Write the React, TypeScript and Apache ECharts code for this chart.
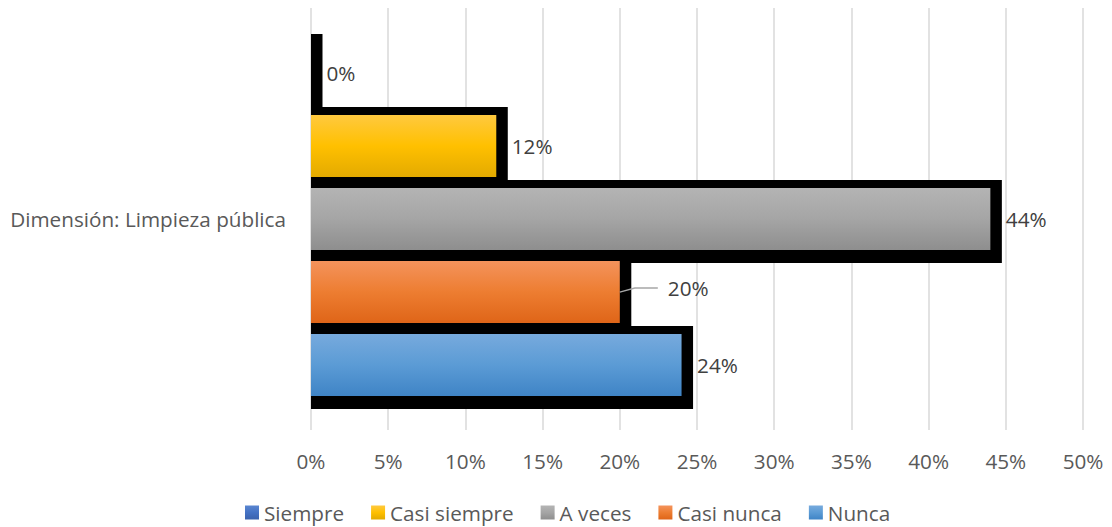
import React, { useEffect, useRef } from "react";
import * as echarts from "echarts";

const categories = ["Dimensión: Limpieza pública"];
const seriesNames = ["Siempre", "Casi siempre", "A veces", "Casi nunca", "Nunca"];
const seriesValues = [0, 0.12, 0.44, 0.2, 0.24];
const xTickValues = [0, 0.05, 0.1, 0.15, 0.2, 0.25, 0.3, 0.35, 0.4, 0.45, 0.5];

const topColors = ["#5a86d0", "#ffc93f", "#b4b4b4", "#f4935c", "#77aadd"];
const midColors = ["#4472c4", "#ffc000", "#a5a5a5", "#ed7d31", "#5b9bd5"];
const bottomColors = ["#3a62ad", "#e3aa00", "#8e8e8e", "#df6518", "#3f84c6"];

const FONT = "'Open Sans', 'Noto Sans', sans-serif";
const FS = 20.7;
const pct = (v: number) => Math.round(v * 100) + "%";

export default function App() {
  const ref = useRef<HTMLDivElement>(null);
  useEffect(() => {
    if (!ref.current) return;
    const chart = echarts.init(ref.current, null, { renderer: "svg" });
    const n = seriesNames.length;
    const grad = (i: number) =>
      new echarts.graphic.LinearGradient(0, 0, 0, 1, [
        { offset: 0, color: topColors[i] },
        { offset: 0.5, color: midColors[i] },
        { offset: 1, color: bottomColors[i] },
      ]);
    const series = seriesNames.map((name, i) => ({
      name,
      type: "custom",
      itemStyle: { color: grad(i) },
      encode: { x: 0, y: 1 },
      data: [[seriesValues[i], 0]],
      renderItem: (params: any, api: any) => {
        const idx = params.seriesIndex;
        const v = api.value(0);
        const start = api.coord([0, api.value(1)]);
        const end = api.coord([v, api.value(1)]);
        const band = api.size([0, 1])[1];
        const barH = band * 0.147;
        const step = band * 0.173;
        const total = (n - 1) * step + barH;
        const top = start[1] - total / 2 + idx * step;
        const w = end[0] - start[0];
        const children: any[] = [
          {
            type: "rect",
            shape: { x: start[0], y: top - 8, width: w + 11.5, height: barH + 8 + 13 },
            style: { fill: "#000" },
          },
          {
            type: "rect",
            shape: { x: start[0], y: top, width: w, height: barH },
            style: { fill: grad(idx) },
          },
        ];
        const cy = top + barH / 2;
        if (idx === 3) {
          const lx = end[0] + 48;
          const ly = cy - 4;
          children.push({
            type: "polyline",
            shape: { points: [[end[0], cy], [end[0] + 15, ly], [lx - 10, ly]] },
            style: { stroke: "#a6a6a6", lineWidth: 1.3, fill: "none" },
          });
          children.push({
            type: "text",
            x: lx,
            y: ly,
            style: { text: pct(v), fill: "#404040", font: `${FS}px ${FONT}`, verticalAlign: "middle", align: "left" },
          });
        } else {
          children.push({
            type: "text",
            x: end[0] + 11.5 + 4,
            y: cy,
            style: { text: pct(v), fill: "#404040", font: `${FS}px ${FONT}`, verticalAlign: "middle", align: "left" },
          });
        }
        return { type: "group", children };
      },
    }));
    chart.setOption({
      animation: false,
      grid: { left: 311, right: 29, top: 8, bottom: 97, containLabel: false },
      legend: {
        data: seriesNames,
        bottom: -1,
        left: 240,
        icon: "rect",
        itemWidth: 14,
        itemHeight: 14,
        itemGap: 27,
        textStyle: { color: "#595959", fontSize: FS, fontFamily: FONT },
      },
      xAxis: {
        type: "value",
        min: 0,
        max: 0.5,
        interval: 0.05,
        axisLine: { show: false },
        axisTick: { show: false },
        splitLine: { lineStyle: { color: "#d9d9d9", width: 1.5 } },
        axisLabel: {
          color: "#595959",
          fontSize: FS,
          fontFamily: FONT,
          margin: 20,
          formatter: (v: number) => (xTickValues.some((t) => Math.abs(t - v) < 1e-9) ? pct(v) : ""),
        },
      },
      yAxis: {
        type: "category",
        data: categories,
        axisLine: { show: false },
        axisTick: { show: false },
        axisLabel: { color: "#595959", fontSize: FS, fontFamily: FONT, margin: 25 },
      },
      series,
    });
    return () => chart.dispose();
  }, []);
  return (
    <div
      ref={ref}
      style={{ position: "fixed", left: 0, top: 0, width: 1112, height: 527, background: "#fff" }}
    />
  );
}
